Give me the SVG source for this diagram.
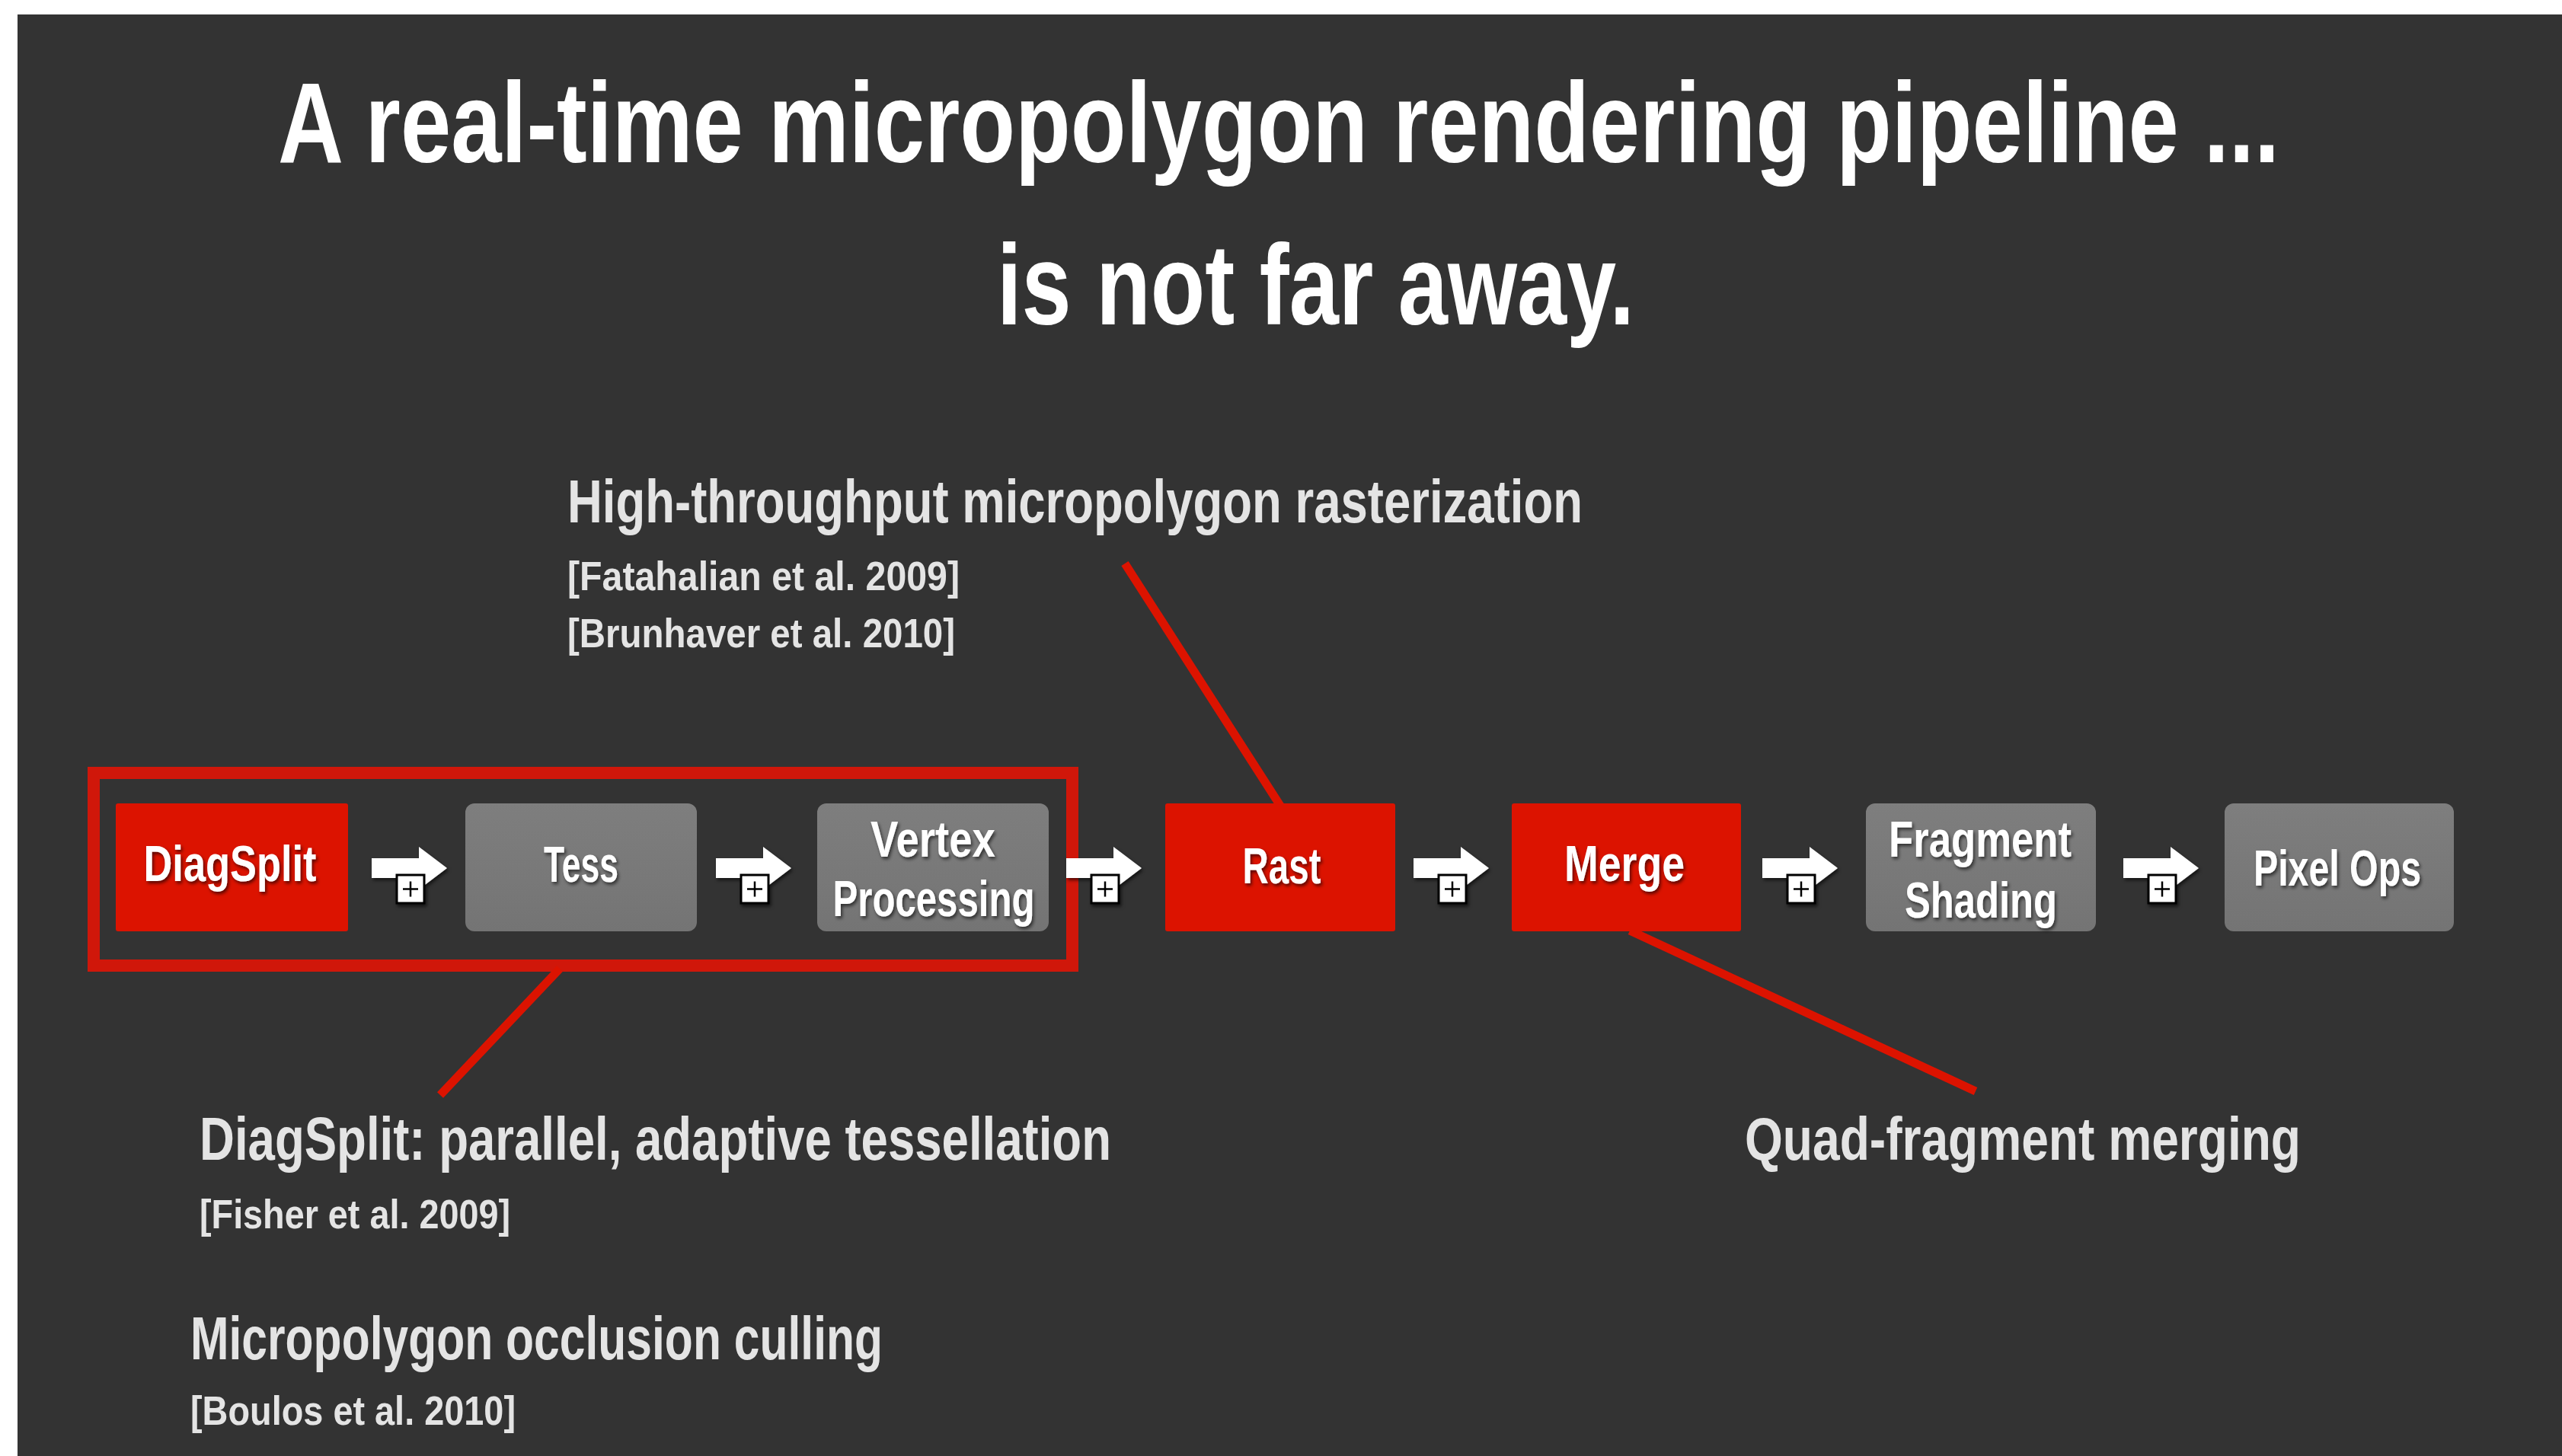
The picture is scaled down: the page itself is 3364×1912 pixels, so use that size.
<svg xmlns="http://www.w3.org/2000/svg" width="3364" height="1912" viewBox="0 0 3364 1912">
<defs>
<style>
.t{font-family:"Liberation Sans Narrow","Liberation Sans",Arial,sans-serif;font-weight:bold;}
.title{fill:#ffffff;font-size:150px;}
.head{fill:#e4e4e4;font-size:79px;}
.cite{fill:#e4e4e4;font-size:54px;}
.lbl{fill:#ffffff;font-size:66px;text-anchor:middle;}
.red{fill:#dc1300;}
.gray{fill:url(#gg);}
.conn{stroke:#dc1300;stroke-width:11;stroke-linecap:butt;fill:none;}
.arr{fill:#ffffff;}
.pbox{fill:#ffffff;stroke:#000000;stroke-width:3;}
.plus{stroke:#000000;stroke-width:2.5;}
</style>
<linearGradient id="gg" x1="0" y1="0" x2="0" y2="1">
<stop offset="0" stop-color="#7e7e7e"/>
<stop offset="1" stop-color="#747474"/>
</linearGradient>
<filter id="sh" x="-20%" y="-20%" width="140%" height="150%">
<feDropShadow dx="2" dy="3" stdDeviation="2" flood-color="#000000" flood-opacity="0.6"/>
</filter>
<g id="arrow">
<path class="arr" d="M-51,-13 H11 V-28 L48,0 L11,28 V13 H-51 Z"/>
<rect class="pbox" x="-18" y="9" width="36" height="37"/>
<path class="plus" d="M-10,27.5 H10 M0,17.5 V37.5"/>
</g>
</defs>
<rect x="0" y="0" width="3364" height="1912" fill="#ffffff"/>
<rect x="23" y="19" width="3341" height="1893" fill="#333333"/>

<g id="title" class="t">
<text class="title" x="365" y="213" textLength="2628" lengthAdjust="spacingAndGlyphs">A real-time micropolygon rendering pipeline ...</text>
<text class="title" x="1309" y="426" textLength="837" lengthAdjust="spacingAndGlyphs">is not far away.</text>
</g>

<g id="annotations" class="t">
<text class="head" x="745" y="686" textLength="1333" lengthAdjust="spacingAndGlyphs">High-throughput micropolygon rasterization</text>
<text class="cite" x="745" y="775" textLength="515" lengthAdjust="spacingAndGlyphs">[Fatahalian et al. 2009]</text>
<text class="cite" x="745" y="850" textLength="509" lengthAdjust="spacingAndGlyphs">[Brunhaver et al. 2010]</text>
<text class="head" x="262" y="1523" textLength="1197" lengthAdjust="spacingAndGlyphs">DiagSplit: parallel, adaptive tessellation</text>
<text class="cite" x="262" y="1613" textLength="408" lengthAdjust="spacingAndGlyphs">[Fisher et al. 2009]</text>
<text class="head" x="250" y="1785" textLength="909" lengthAdjust="spacingAndGlyphs">Micropolygon occlusion culling</text>
<text class="cite" x="250" y="1871" textLength="427" lengthAdjust="spacingAndGlyphs">[Boulos et al. 2010]</text>
<text class="head" x="2291" y="1523" textLength="730" lengthAdjust="spacingAndGlyphs">Quad-fragment merging</text>
</g>

<g id="connectors">
<rect x="123" y="1015" width="1285" height="253" fill="none" stroke="#d0170a" stroke-width="16"/>
<line class="conn" x1="1477" y1="740" x2="1681" y2="1058"/>
<line class="conn" x1="735" y1="1272" x2="578" y2="1438"/>
<line class="conn" x1="2140" y1="1222" x2="2594" y2="1433"/>
<g filter="url(#sh)">
<use href="#arrow" x="539" y="1140"/>
<use href="#arrow" x="991" y="1140"/>
<use href="#arrow" x="1451" y="1140"/>
<use href="#arrow" x="1907" y="1140"/>
<use href="#arrow" x="2365" y="1140"/>
<use href="#arrow" x="2839" y="1140"/>
</g>
</g>

<g id="node-diagsplit">
<rect class="red" x="152" y="1055" width="305" height="168" rx="3"/>
<text class="t lbl" x="302" y="1157" textLength="227" lengthAdjust="spacingAndGlyphs" filter="url(#sh)">DiagSplit</text>
</g>
<g id="node-tess">
<rect class="gray" x="611" y="1055" width="304" height="168" rx="12"/>
<text class="t lbl" x="763" y="1158" textLength="98" lengthAdjust="spacingAndGlyphs" filter="url(#sh)">Tess</text>
</g>
<g id="node-vertex">
<rect class="gray" x="1073" y="1055" width="304" height="168" rx="12"/>
<text class="t lbl" x="1225" y="1125" textLength="164" lengthAdjust="spacingAndGlyphs" filter="url(#sh)">Vertex</text>
<text class="t lbl" x="1226" y="1203" textLength="265" lengthAdjust="spacingAndGlyphs" filter="url(#sh)">Processing</text>
</g>
<g id="node-rast">
<rect class="red" x="1530" y="1055" width="302" height="168" rx="3"/>
<text class="t lbl" x="1683" y="1160" textLength="103" lengthAdjust="spacingAndGlyphs" filter="url(#sh)">Rast</text>
</g>
<g id="node-merge">
<rect class="red" x="1985" y="1055" width="301" height="168" rx="3"/>
<text class="t lbl" x="2133" y="1157" textLength="158" lengthAdjust="spacingAndGlyphs" filter="url(#sh)">Merge</text>
</g>
<g id="node-fragment">
<rect class="gray" x="2450" y="1055" width="302" height="168" rx="12"/>
<text class="t lbl" x="2600" y="1125" textLength="240" lengthAdjust="spacingAndGlyphs" filter="url(#sh)">Fragment</text>
<text class="t lbl" x="2601" y="1205" textLength="200" lengthAdjust="spacingAndGlyphs" filter="url(#sh)">Shading</text>
</g>
<g id="node-pixelops">
<rect class="gray" x="2921" y="1055" width="301" height="168" rx="12"/>
<text class="t lbl" x="3069" y="1163" textLength="220" lengthAdjust="spacingAndGlyphs" filter="url(#sh)">Pixel Ops</text>
</g>
</svg>
